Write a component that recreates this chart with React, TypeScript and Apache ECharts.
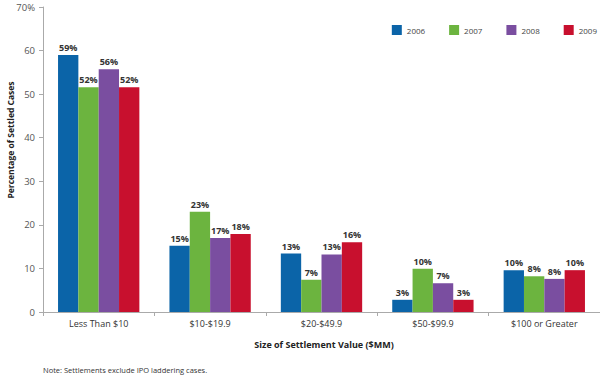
import React, { useEffect, useRef } from "react";
import * as echarts from "echarts";

const categories = ["Less Than $10", "$10-$19.9", "$20-$49.9", "$50-$99.9", "$100 or Greater"];
const years = ["2006", "2007", "2008", "2009"];
const v2006 = [59, 15.2, 13.4, 2.8, 9.6];
const v2007 = [51.6, 23, 7.4, 9.9, 8.2];
const v2008 = [55.7, 17, 13.2, 6.6, 7.6];
const v2009 = [51.6, 17.9, 16, 2.8, 9.6];
const colors = ["#0b64a8", "#6cb43f", "#7a4ea0", "#c8102e"];
const yTicks = [0, 10, 20, 30, 40, 50, 60, 70];

export default function App() {
  const ref = useRef<HTMLDivElement>(null);
  useEffect(() => {
    const chart = echarts.init(ref.current!, undefined, { renderer: "svg" });
    const seriesData = [v2006, v2007, v2008, v2009];
    const font = "'Open Sans', 'Noto Sans', sans-serif";
    chart.setOption({
      animation: false,
      textStyle: { fontFamily: font },
      grid: { left: 43, right: 0, top: 7, bottom: 65, containLabel: false },
      legend: {
        data: years,
        top: 25,
        right: 3,
        padding: 0,
        icon: "rect",
        itemWidth: 10,
        itemHeight: 10,
        itemGap: 24,
        textStyle: { fontSize: 8, color: "#444", fontFamily: font },
      },
      xAxis: {
        type: "category",
        data: categories,
        axisLine: { lineStyle: { color: "#aaa" } },
        axisTick: { show: true, alignWithLabel: false, length: 4, lineStyle: { color: "#aaa" } },
        axisLabel: { fontSize: 9, color: "#333", margin: 7, fontFamily: font },
      },
      yAxis: {
        type: "value",
        min: yTicks[0],
        max: yTicks[yTicks.length - 1],
        interval: 10,
        axisLine: { show: true, lineStyle: { color: "#aaa" } },
        axisTick: { show: true, length: 4, lineStyle: { color: "#aaa" } },
        splitLine: { show: false },
        axisLabel: {
          fontSize: 9.5,
          color: "#555",
          margin: 8,
          fontFamily: font,
          formatter: (v: number) => (v === 70 ? "70%" : String(v)),
        },
      },
      graphic: [
        {
          type: "text",
          x: 10,
          y: 140,
          rotation: Math.PI / 2,
          style: {
            text: "Percentage of Settled Cases",
            align: "center",
            verticalAlign: "middle",
            font: `bold 8.5px ${font}`,
            fill: "#222",
          },
        },
        {
          type: "text",
          x: 324,
          y: 344,
          style: {
            text: "Size of Settlement Value ($MM)",
            align: "center",
            verticalAlign: "middle",
            font: `bold 9px ${font}`,
            fill: "#222",
          },
        },
        {
          type: "text",
          x: 43,
          y: 370,
          style: {
            text: "Note: Settlements exclude IPO laddering cases.",
            align: "left",
            verticalAlign: "middle",
            font: `7.5px ${font}`,
            fill: "#333",
          },
        },
      ],
      series: years.map((y, i) => ({
        name: y,
        type: "bar",
        data: seriesData[i],
        barGap: "0%",
        barCategoryGap: "27%",
        itemStyle: { color: colors[i] },
        label: {
          show: true,
          position: "top",
          distance: 3,
          fontSize: 9,
          fontWeight: "bold",
          color: "#333",
          fontFamily: font,
          formatter: (p: any) => Math.round(p.value) + "%",
        },
      })),
    });
    return () => chart.dispose();
  }, []);
  return <div ref={ref} style={{ width: 600, height: 377, position: "absolute", left: 0, top: 0 }} />;
}
